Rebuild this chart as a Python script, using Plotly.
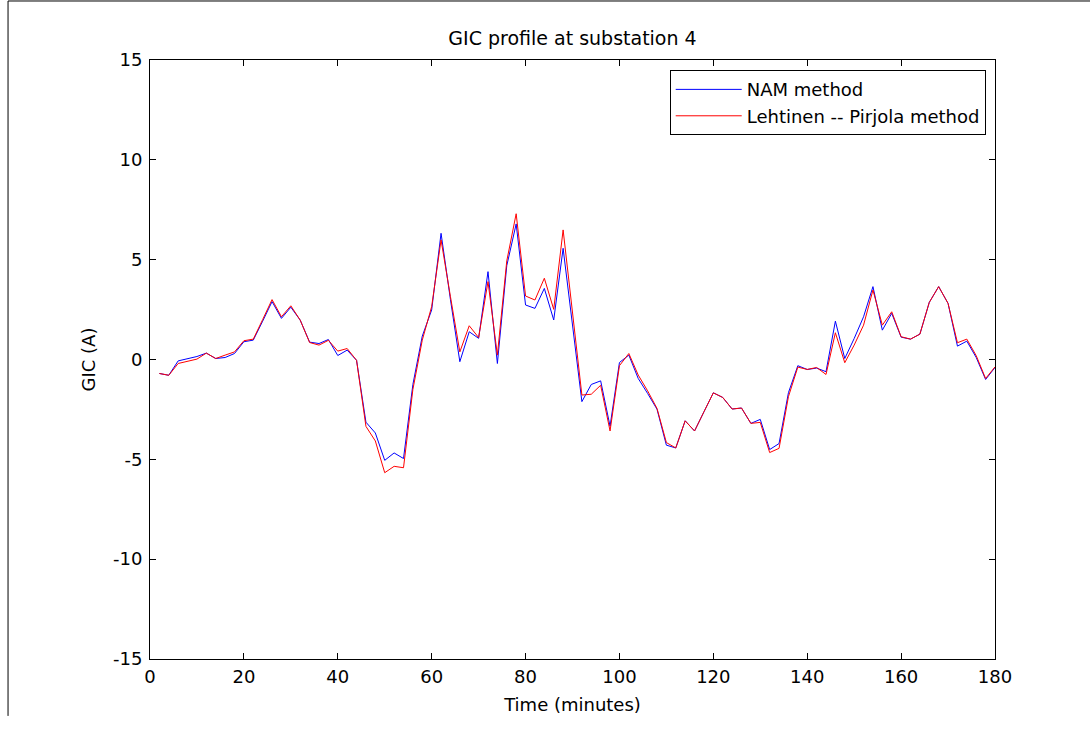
import plotly.graph_objects as go

# Sample times (minutes), one sample every 2 minutes
time_min = list(range(2, 181, 2))

# GIC at substation 4 computed with the nodal admittance matrix (NAM) method
gic_nam = [
    -0.70, -0.79, -0.07, 0.05, 0.15, 0.32, 0.05, 0.10, 0.30, 0.89,
    0.97, 1.92, 2.90, 2.06, 2.62, 1.97, 0.87, 0.80, 1.00, 0.20,
    0.47, -0.04, -3.14, -3.68, -5.05, -4.68, -4.96, -1.25, 1.17, 2.48,
    6.32, 3.00, -0.11, 1.39, 1.06, 4.40, -0.20, 4.70, 6.79, 2.73,
    2.56, 3.56, 1.98, 5.57, 1.70, -2.11, -1.25, -1.07, -3.34, -0.15,
    0.22, -0.95, -1.70, -2.49, -4.29, -4.43, -3.07, -3.58, -2.62, -1.67,
    -1.90, -2.48, -2.43, -3.20, -3.00, -4.51, -4.21, -1.66, -0.31, -0.50,
    -0.43, -0.61, 1.92, 0.05, 1.05, 2.14, 3.65, 1.47, 2.31, 1.12,
    1.02, 1.27, 2.86, 3.65, 2.81, 0.67, 0.92, 0.10, -1.00, -0.40,
]

# GIC at substation 4 computed with the Lehtinen-Pirjola method
gic_lp = [
    -0.70, -0.79, -0.20, -0.08, 0.02, 0.32, 0.05, 0.22, 0.38, 0.94,
    1.02, 2.00, 3.00, 2.14, 2.69, 1.97, 0.85, 0.72, 0.96, 0.42,
    0.55, -0.04, -3.35, -4.08, -5.67, -5.35, -5.42, -1.50, 0.97, 2.65,
    5.99, 3.15, 0.38, 1.69, 1.10, 3.90, 0.22, 4.94, 7.30, 3.18,
    2.98, 4.07, 2.51, 6.49, 2.20, -1.78, -1.74, -1.29, -3.58, -0.31,
    0.30, -0.78, -1.57, -2.45, -4.16, -4.43, -3.07, -3.58, -2.62, -1.67,
    -1.90, -2.48, -2.43, -3.20, -3.15, -4.66, -4.45, -1.86, -0.38, -0.50,
    -0.40, -0.75, 1.34, -0.16, 0.72, 1.72, 3.48, 1.72, 2.39, 1.14,
    1.02, 1.27, 2.86, 3.65, 2.81, 0.84, 1.02, 0.19, -0.95, -0.37,
]

x_ticks = [0, 20, 40, 60, 80, 100, 120, 140, 160, 180]
y_ticks = [-15, -10, -5, 0, 5, 10, 15]
y_tick_labels = ["-15", "-10", "-5", "0", "5", "10", "15"]

FONT = "DejaVu Sans, Verdana, sans-serif"
FS = 18

fig = go.Figure()
fig.add_trace(go.Scatter(
    x=time_min, y=gic_nam, mode="lines", name="NAM method", legendgroup="nam",
    line=dict(color="rgb(0,0,255)", width=1),
))
fig.add_trace(go.Scatter(
    x=time_min, y=gic_lp, mode="lines", name="Lehtinen -- Pirjola method", legendgroup="lp",
    line=dict(color="rgb(255,0,0)", width=1),
))

axis_common = dict(
    showgrid=False, zeroline=False,
    showline=True, linecolor="black", linewidth=1, mirror="ticks",
    ticks="inside", ticklen=6, tickcolor="black", tickwidth=1,
    tickfont=dict(family=FONT, size=FS, color="black"),
)

fig.update_xaxes(
    range=[0, 180], tickvals=x_ticks, ticklabelstandoff=1,
    title=dict(text="Time (minutes)", font=dict(family=FONT, size=FS, color="black"), standoff=12),
    **axis_common,
)
fig.update_yaxes(
    range=[-15, 15], tickvals=y_ticks, ticktext=y_tick_labels, ticklabelstandoff=3,
    title=dict(text="GIC (A)", font=dict(family=FONT, size=FS, color="black"), standoff=12),
    **axis_common,
)

# Thin page frame along the top and left edges
fig.add_shape(type="line", xref="paper", yref="paper",
              x0=-0.168, x1=1.2, y0=1.0985, y1=1.0985,
              line=dict(color="black", width=1))
fig.add_shape(type="line", xref="paper", yref="paper",
              x0=-0.168, x1=-0.168, y0=1.0985, y1=-0.095,
              line=dict(color="black", width=1))

fig.update_layout(
    width=1090, height=738,
    margin=dict(l=150, r=95, t=60, b=79),
    paper_bgcolor="white", plot_bgcolor="white",
    font=dict(family=FONT, size=FS, color="black"),
    title=dict(text="GIC profile at substation 4", x=0.5, xref="paper",
               y=1 - 38 / 738, yanchor="middle",
               font=dict(family=FONT, size=19, color="black")),
    legend=dict(
        x=0.989, y=0.983, xanchor="right", yanchor="top",
        bordercolor="black", borderwidth=1, bgcolor="white",
        font=dict(family=FONT, size=FS, color="black"),
        itemwidth=66, tracegroupgap=0,
    ),
    showlegend=True,
)

fig.write_html("out.html")
